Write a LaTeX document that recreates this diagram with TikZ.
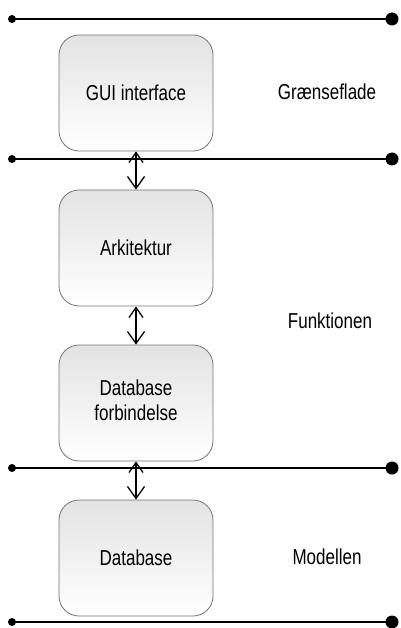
\documentclass[tikz,border=0pt]{standalone}
\usepackage{fontspec}
\usepackage{graphicx}
\setmainfont{Liberation Sans}
\usetikzlibrary{arrows.meta}
% text in this figure is set slightly tall
\newcommand{\talltext}[1]{\scalebox{1}[1.27]{#1}}
\newcommand{\talllines}[1]{\scalebox{1}[1.27]{\begin{tabular}{@{}c@{}}#1\end{tabular}}}
\begin{document}
\begin{tikzpicture}[x=1pt,y=-1pt,
  layerbox/.style={draw=black!55, line width=0.8pt, rounded corners=20pt,
    top color=black!11, bottom color=white,
    minimum width=154pt, minimum height=116pt, inner sep=0pt,
    align=center, font=\fontsize{17}{20}\selectfont},
  layerlabel/.style={anchor=base, inner sep=0pt, font=\fontsize{17}{20}\selectfont},
  boundary/.style={line width=1.7pt},
  link/.style={line width=1.3pt,
    {Straight Barb[length=10pt,width=14pt,line width=1.3pt]}-{Straight Barb[length=12pt,width=17pt,line width=1.3pt]}}
]
\useasboundingbox (0,0) rectangle (400,628);

% layer boundaries
\foreach \n/\y in {1/19,2/159,3/468,4/622}{
  \coordinate (b\n l) at (12,\y);
  \coordinate (b\n r) at (392,\y);
  \draw[boundary] (b\n l) -- (b\n r);
  \fill (b\n l) circle (4pt);
  \fill (b\n r) circle (6.5pt);
}

% components
\node[layerbox] (gui) at (136,93)  {\talltext{GUI interface}};
\node[layerbox] (ark) at (136,248) {\talltext{Arkitektur}};
\node[layerbox] (dbf) at (136,403) {\talllines{Database\\forbindelse}};
\node[layerbox] (db)  at (136,558) {\talltext{Database}};

% connections between components
\draw[link] (gui.south) -- (ark.north);
\draw[link] (ark.south) -- (dbf.north);
\draw[link] (dbf.south) -- (db.north);

% layer names
\node[layerlabel] (lg) at (327,99.5)  {\talltext{Grænseflade}};
\node[layerlabel] (lf) at (330,328.5) {\talltext{Funktionen}};
\node[layerlabel] (lm) at (327,564) {\talltext{Modellen}};
\end{tikzpicture}
\end{document}
